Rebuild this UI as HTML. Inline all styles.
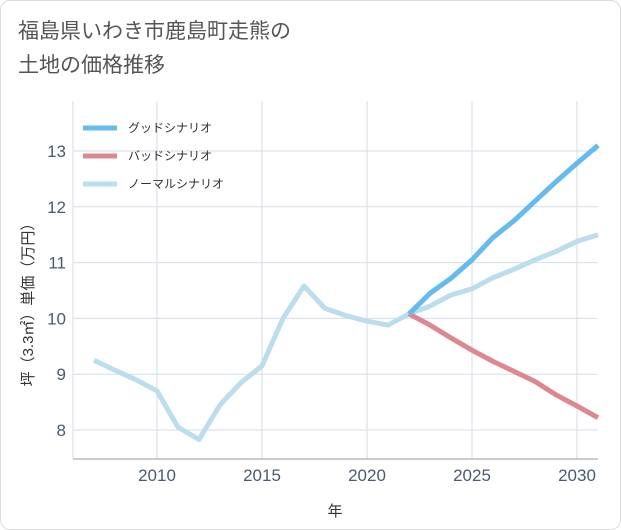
<!DOCTYPE html>
<html><head><meta charset="utf-8"><style>
body{margin:0;background:#fff;}
#wrap{position:relative;width:619px;height:528px;border:1px solid #ddd;border-radius:10px;background:#fff;overflow:hidden;font-family:"Liberation Sans","Noto Sans CJK JP",sans-serif;}
#title{position:absolute;left:17px;top:14px;font-size:21px;line-height:34px;color:#555;}
svg{position:absolute;left:0;top:0;}
</style></head><body>
<div id="wrap">
<div id="title">福島県いわき市鹿島町走熊の<br>土地の価格推移</div>
<svg id="chart" width="621" height="530"></svg>
</div>
<script>
const years=[2007,2008,2009,2010,2011,2012,2013,2014,2015,2016,2017,2018,2019,2020,2021,2022,2023,2024,2025,2026,2027,2028,2029,2030,2031];
const normal=[9.25,9.07,8.9,8.7,8.05,7.83,8.45,8.85,9.15,10.0,10.58,10.18,10.05,9.95,9.88,10.08,10.22,10.42,10.53,10.73,10.88,11.05,11.2,11.38,11.5];
const futureYears=[2022,2023,2024,2025,2026,2027,2028,2029,2030,2031];
const good=[10.08,10.45,10.72,11.05,11.45,11.75,12.1,12.45,12.78,13.1];
const bad=[10.08,9.88,9.65,9.43,9.23,9.05,8.87,8.63,8.43,8.22];
const xTicks=[2010,2015,2020,2025,2030];
const yTicks=[8,9,10,11,12,13];
const legendLabels=["グッドシナリオ","バッドシナリオ","ノーマルシナリオ"];
const colors=["#66bbee","#dd8890","#bbdded"];
const L=72,R=597,T=100,B=458;
const x=v=>156+(v-2010)*21;
const y=v=>150+(13-v)*55.8;
const svg=document.getElementById('chart');
const NS="http://www.w3.org/2000/svg";
function mk(t,a,p){const e=document.createElementNS(NS,t);for(const k in a)e.setAttribute(k,a[k]);(p||svg).appendChild(e);return e;}
const grid=mk('g',{});


xTicks.forEach(t=>{mk('line',{x1:x(t),x2:x(t),y1:T,y2:B,stroke:'#d5dde5','stroke-width':1},grid);
 const tx=mk('text',{x:x(t),y:B+22,'text-anchor':'middle','font-size':17,fill:'#4a5a70'});tx.textContent=t;
 
 });
yTicks.forEach(t=>{mk('line',{x1:L,x2:R,y1:y(t),y2:y(t),stroke:'#d5dde5','stroke-width':1},grid);
 const tx=mk('text',{x:L-7,y:y(t)+6,'text-anchor':'end','font-size':17,fill:'#4a5a70'});tx.textContent=t;
 
 });
mk('line',{x1:L,x2:L,y1:T,y2:B,stroke:'#d5dde5'},grid);
mk('line',{x1:L,x2:R,y1:B,y2:B,stroke:'#999'},grid);
function line(xs,vs,c,name){const p=mk('polyline',{points:xs.map((yr,i)=>x(yr)+','+y(vs[i])).join(' '),fill:'none',stroke:c,'stroke-width':5,'stroke-linejoin':'round'});
 
 }
line(years,normal,colors[2],'normal-scenario-line');
line(futureYears,bad,colors[1],'bad-scenario-line');
line(futureYears,good,colors[0],'good-scenario-line');
legendLabels.forEach((lb,i)=>{const g=mk('g',{});
 
 
 mk('line',{x1:82,x2:116,y1:127+i*28,y2:127+i*28,stroke:colors[i],'stroke-width':5},g);
 const t=mk('text',{x:127,y:131+i*28,'font-size':12,fill:'#333'},g);t.textContent=lb;});
const xt=mk('text',{x:334,y:515,'text-anchor':'middle','font-size':15,fill:'#333'});xt.textContent='年';


const yt=mk('text',{x:0,y:0,'text-anchor':'middle','font-size':15,fill:'#333',transform:'translate(32,300) rotate(-90)'});yt.textContent='坪（3.3㎡）単価（万円）';


</script>
</body></html>
